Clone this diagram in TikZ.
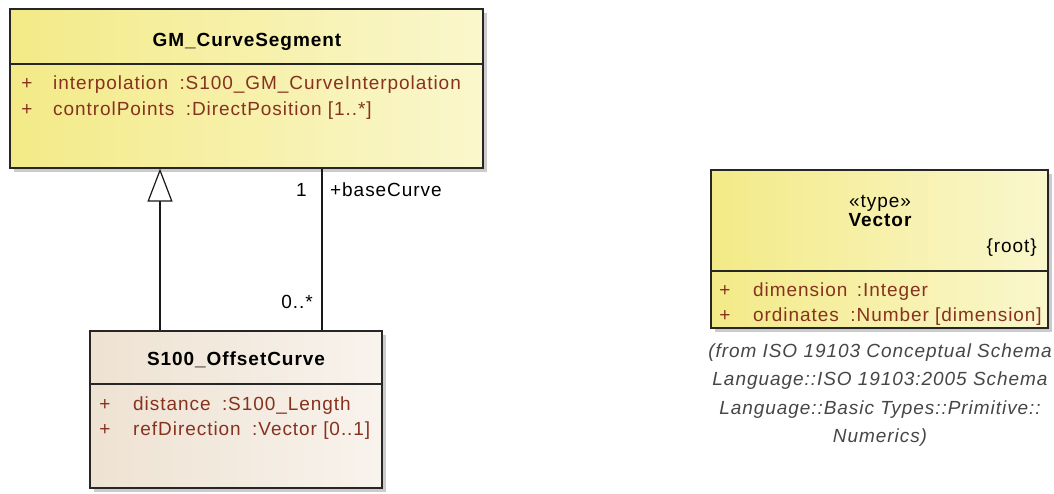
\documentclass[tikz,border=0pt]{standalone}
\usepackage{fontspec}
\setmainfont{Liberation Sans}[LetterSpace=5]
\usetikzlibrary{arrows.meta,shadows}
\definecolor{ylL}{RGB}{243,234,135}
\definecolor{ylR}{RGB}{250,247,205}
\definecolor{bgL}{RGB}{238,226,210}
\definecolor{bgR}{RGB}{248,243,237}
\definecolor{attrc}{RGB}{135,50,30}
\definecolor{capc}{RGB}{70,70,70}
\begin{document}
\begin{tikzpicture}[x=1pt,y=-1pt,
  font=\fontsize{19}{22}\selectfont,
  box/.style={draw=black!85, line width=1.3pt, inner sep=0pt,
    drop shadow={shadow xshift=4pt, shadow yshift=-4pt, fill=black!40, opacity=0.5}},
  sep/.style={draw=black!85, line width=1.3pt},
  txt/.style={inner sep=0pt, text height=13pt, text depth=4pt},
  attr/.style={txt, anchor=west, text=attrc},
  plus/.style={txt, text=attrc},
  ttl/.style={txt, font=\fontsize{19}{22}\selectfont\bfseries},
  lbl/.style={txt, text=black},
  conn/.style={draw=black!90, line width=1.2pt}]
\useasboundingbox[fill=white] (0,0) rectangle (1054,494);

% GM_CurveSegment
\node[box, left color=ylL, right color=ylR, minimum width=473pt, minimum height=159pt] (gm) at (246.5,88.5) {};
\draw[sep] (10,64) -- (483,64);
\node[ttl] (gmt) at (247,42) {GM\_CurveSegment};
\node[plus] (gp1) at (27,85) {+};
\node[attr] (ga1) at (53,85) {interpolation};
\node[attr] (gb1) at ([xshift=11pt]ga1.east) {:S100\_GM\_CurveInterpolation};
\node[plus] (gp2) at (27,111) {+};
\node[attr] (ga2) at (53,111) {controlPoints};
\node[attr] (gb2) at ([xshift=11pt]ga2.east) {:DirectPosition [1..*]};

% S100_OffsetCurve
\node[box, left color=bgL, right color=bgR, minimum width=292pt, minimum height=157pt] (oc) at (236,409.5) {};
\draw[sep] (90,384) -- (382,384);
\node[ttl] (oct) at (236,361) {S100\_OffsetCurve};
\node[plus] (op1) at (105,406) {+};
\node[attr] (oa1) at (133,406) {distance};
\node[attr] (ob1) at ([xshift=11pt]oa1.east) {:S100\_Length};
\node[plus] (op2) at (105,431) {+};
\node[attr] (oa2) at (133,431) {refDirection};
\node[attr] (ob2) at ([xshift=11pt]oa2.east) {:Vector [0..1]};

% Vector
\node[box, left color=ylL, right color=ylR, minimum width=337pt, minimum height=158pt] (vc) at (879.5,249) {};
\draw[sep] (711,271) -- (1048,271);
\node[lbl] (vst) at (880,203) {«type»};
\node[ttl] (vt) at (880,222) {Vector};
\node[lbl, anchor=east] (vr) at (1037,248) {\{root\}};
\node[plus] (vp1) at (725,292) {+};
\node[attr] (va1) at (753,292) {dimension};
\node[attr] (vb1) at ([xshift=9pt]va1.east) {:Integer};
\node[plus] (vp2) at (725,317) {+};
\node[attr] (va2) at (753,317) {ordinates};
\node[attr] (vb2) at ([xshift=11pt]va2.east) {:Number [dimension]};
\node[inner sep=0pt, align=center, text=capc, font=\fontsize{19}{28.5}\selectfont\itshape] (cap) at (880,395)
  {(from ISO 19103 Conceptual Schema\\Language::ISO 19103:2005 Schema\\Language::Basic Types::Primitive::\\Numerics)};

% connectors
\coordinate (gx) at (160,0);
\coordinate (ax) at (322,0);
\draw[conn, -{Triangle[length=33pt, width=25pt, fill=white, line width=1.2pt]}] (oc.north -| gx) -- (gm.south -| gx);
\draw[conn] (gm.south -| ax) -- (oc.north -| ax);
\node[lbl, anchor=east] (m1) at (307,192) {1};
\node[lbl, anchor=west] (bc) at (330,192) {+baseCurve};
\node[lbl, anchor=east] (m2) at (313,304) {0..*};
\end{tikzpicture}
\end{document}
